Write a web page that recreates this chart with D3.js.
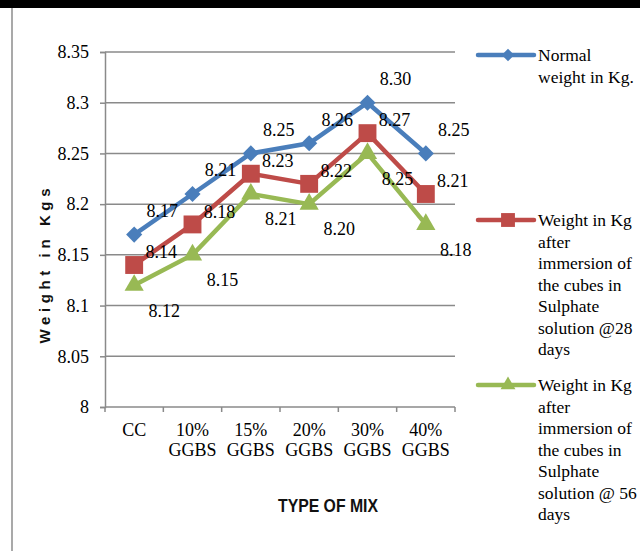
<!DOCTYPE html>
<html>
<head>
<meta charset="utf-8">
<script src="https://cdn.jsdelivr.net/npm/d3@7/dist/d3.min.js"></script>
<style>
  html, body { margin: 0; padding: 0; background: #fff; }
  svg { display: block; }
</style>
</head>
<body>
<svg id="chart" width="640" height="551"></svg>
<script>
// Mix types along the x axis (each label wraps onto two lines)
const categories = ["CC", "10% GGBS", "15% GGBS", "20% GGBS", "30% GGBS", "40% GGBS"];
const categoryLines = [["CC"], ["10%", "GGBS"], ["15%", "GGBS"], ["20%", "GGBS"], ["30%", "GGBS"], ["40%", "GGBS"]];

// Cube weights (kg)
const normalWeight = [8.17, 8.21, 8.25, 8.26, 8.30, 8.25];
const sulphate28 = [8.14, 8.18, 8.23, 8.22, 8.27, 8.21];
const sulphate56 = [8.12, 8.15, 8.21, 8.20, 8.25, 8.18];

// Y axis ticks
const yTicks = [8, 8.05, 8.1, 8.15, 8.2, 8.25, 8.3, 8.35];
const yTickLabels = ["8", "8.05", "8.1", "8.15", "8.2", "8.25", "8.3", "8.35"];

const legendNormal = ["Normal", "weight in Kg."];
const legend28 = ["Weight in Kg", "after", "immersion of", "the cubes in", "Sulphate", "solution @28", "days"];
const legend56 = ["Weight in Kg", "after", "immersion of", "the cubes in", "Sulphate", "solution @ 56", "days"];

const series = [
  { values: normalWeight, color: "#4a7ebb", symbol: d3.symbolSquare, rotate: 45, size: 130, labelDx: 28, labelDy: -24, legend: legendNormal, legendY: 55 },
  { values: sulphate28, color: "#be4b48", symbol: d3.symbolSquare, rotate: 0, size: 320, labelDx: 27, labelDy: -13, legend: legend28, legendY: 220 },
  { values: sulphate56, color: "#98b954", symbol: d3.symbolTriangle, rotate: 0, size: 160, labelDx: 30, labelDy: 25, legend: legend56, legendY: 385 }
];

const svg = d3.select("#chart");
const serif = "'Liberation Serif', 'Times New Roman', serif";
const fontSize = 18;

// Outer frame: heavy black rule on top, thin grey rule on the left
svg.append("rect").attr("x", 0).attr("y", 0).attr("width", 640).attr("height", 8).attr("fill", "#000");
svg.append("line").attr("x1", 12).attr("x2", 12).attr("y1", 8).attr("y2", 551)
  .attr("stroke", "#8c8c8c").attr("stroke-width", 1.5);

const plot = { left: 105, right: 455, top: 52, bottom: 407 };

const x = d3.scaleBand().domain(categories).range([plot.left, plot.right]).padding(0);
const y = d3.scaleLinear().domain([8, 8.35]).range([plot.bottom, plot.top]);
const cx = c => x(c) + x.bandwidth() / 2;

// Horizontal gridlines
svg.append("g").selectAll("line").data(yTicks.filter(t => t > 8)).join("line")
  .attr("x1", plot.left).attr("x2", plot.right)
  .attr("y1", d => y(d)).attr("y2", d => y(d))
  .attr("stroke", "#8a8a8a").attr("stroke-width", 1.5);

// Y axis
const yAxis = d3.axisLeft(y).tickValues(yTicks).tickSize(5).tickPadding(11)
  .tickFormat((d, i) => yTickLabels[i]);
const gy = svg.append("g").attr("transform", `translate(${plot.left},0)`).call(yAxis);
gy.attr("font-family", serif).attr("font-size", fontSize);
gy.select(".domain").attr("stroke", "#8a8a8a").attr("stroke-width", 1.5);
gy.selectAll(".tick line").attr("stroke", "#8a8a8a").attr("stroke-width", 1.5);
gy.selectAll(".tick text").attr("fill", "#000").attr("font-family", serif);

// X axis with tick marks at category boundaries
const gx = svg.append("g").attr("transform", `translate(0,${plot.bottom})`);
gx.append("line").attr("x1", plot.left).attr("x2", plot.right)
  .attr("stroke", "#8a8a8a").attr("stroke-width", 1.5);
const bounds = categories.map(c => x(c)).concat([x(categories[categories.length - 1]) + x.bandwidth()]);
gx.selectAll("line.tk").data(bounds).join("line").attr("class", "tk")
  .attr("x1", d => d).attr("x2", d => d).attr("y1", 0).attr("y2", 5)
  .attr("stroke", "#8a8a8a").attr("stroke-width", 1.5);
gx.selectAll("text.cat").data(categories).join("text").attr("class", "cat")
  .attr("font-family", serif).attr("font-size", fontSize).attr("text-anchor", "middle")
  .attr("x", d => cx(d)).attr("y", 29)
  .each(function (d, i) {
    d3.select(this).selectAll("tspan").data(categoryLines[i]).join("tspan")
      .attr("x", cx(d)).attr("dy", (t, j) => j === 0 ? 0 : 20).text(t => t);
  });

// Axis titles
svg.append("text").attr("x", 328).attr("y", 512).attr("text-anchor", "middle")
  .attr("font-family", "'Liberation Sans Narrow', 'Liberation Sans', Arial, sans-serif")
  .attr("font-weight", "bold").attr("font-size", 19).attr("fill", "#111")
  .attr("textLength", 100).attr("lengthAdjust", "spacingAndGlyphs")
  .text("TYPE OF MIX");
svg.append("text").attr("transform", "translate(50,266) rotate(-90)").attr("text-anchor", "middle")
  .attr("font-family", "'Liberation Sans', Arial, sans-serif")
  .attr("font-weight", "bold").attr("font-size", 15).attr("fill", "#111")
  .attr("textLength", 155).attr("lengthAdjust", "spacing")
  .text("Weight in Kgs");

// Lines, markers and value labels
const line = d3.line().x((d, i) => cx(categories[i])).y(d => y(d));
series.forEach(s => {
  const g = svg.append("g");
  g.append("path").datum(s.values).attr("d", line)
    .attr("fill", "none").attr("stroke", s.color).attr("stroke-width", 4.5).attr("stroke-linejoin", "round");
  g.selectAll("path.m").data(s.values).join("path").attr("class", "m")
    .attr("d", d3.symbol().type(s.symbol).size(s.size))
    .attr("transform", (d, i) => `translate(${cx(categories[i])},${y(d)}) rotate(${s.rotate})`)
    .attr("fill", s.color);
});
series.forEach(s => {
  svg.append("g").selectAll("text").data(s.values).join("text")
    .attr("x", (d, i) => cx(categories[i]) + s.labelDx)
    .attr("y", d => y(d) + s.labelDy)
    .attr("dy", "0.35em").attr("text-anchor", "middle")
    .attr("font-family", serif).attr("font-size", fontSize).attr("fill", "#000")
    .text(d => d.toFixed(2));
});

// Legend
series.forEach(s => {
  const g = svg.append("g").attr("transform", `translate(478,${s.legendY})`);
  g.append("line").attr("x1", 0).attr("x2", 56).attr("stroke", s.color)
    .attr("stroke-width", 4.5).attr("stroke-linecap", "round");
  g.append("path").attr("d", d3.symbol().type(s.symbol).size(s.size * 0.6))
    .attr("transform", `translate(30,0) rotate(${s.rotate})`).attr("fill", s.color);
  g.append("text").attr("x", 60).attr("y", 0)
    .attr("font-family", serif).attr("font-size", 17.5).attr("fill", "#000")
    .selectAll("tspan").data(s.legend).join("tspan")
    .attr("x", 60).attr("dy", (t, j) => j === 0 ? "0.35em" : 21.5).text(t => t);
});
</script>
</body>
</html>
